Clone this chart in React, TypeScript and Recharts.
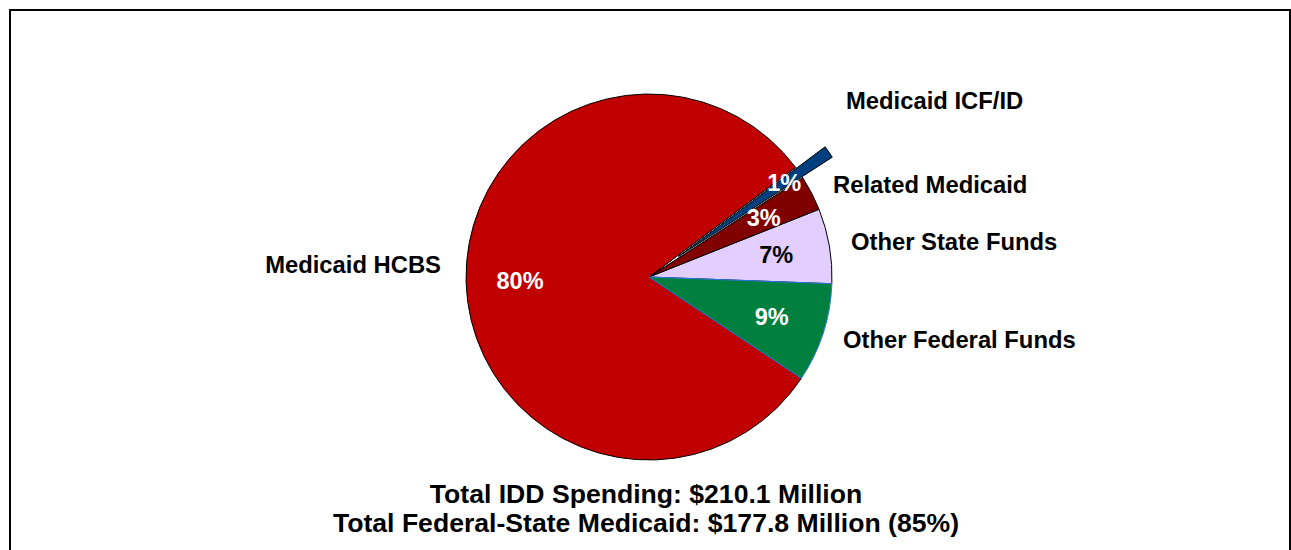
import { PieChart, Pie, Cell } from 'recharts';

// IDD spending by funding source, $ millions (total 210.1)
const categories = ['Other State Funds', 'Related Medicaid', 'Medicaid ICF/ID', 'Medicaid HCBS', 'Other Federal Funds'];
const spending = [13.9, 6.5, 2.3, 169.0, 18.4];
const sliceColors = ['#E2CEFF', '#800000', '#003F7F', '#C00000', '#007F3F'];
const pctColors = ['#000000', '#ffffff', '#ffffff', '#ffffff', '#ffffff'];
const footerLines = ['Total IDD Spending: $210.1 Million', 'Total Federal-State Medicaid: $177.8 Million (85%)'];

const explodedName = 'Medicaid ICF/ID';

const data = categories.map((name, i) => ({ name, value: spending[i] }));

// where Excel put the category callouts
const calloutPos: Record<string, { x: number; y: number; anchor: 'start' | 'end' }> = {
  'Medicaid HCBS': { x: 441, y: 273, anchor: 'end' },
  'Medicaid ICF/ID': { x: 846, y: 109, anchor: 'start' },
  'Related Medicaid': { x: 833, y: 193, anchor: 'start' },
  'Other State Funds': { x: 851, y: 250, anchor: 'start' },
  'Other Federal Funds': { x: 843, y: 348, anchor: 'start' },
};

const W = 1291;
const H = 550;
const CX = 649;
const CY = 277;
const R = 183;
const START = -2.1;
const EXPLODE = 36;
const RADIAN = Math.PI / 180;
const FONT = '"Liberation Sans", Arial, sans-serif';

// mid angle of the exploded slice, so the second pie can be pushed out along it
const total = spending.reduce((a, b) => a + b, 0);
const explodedIdx = categories.indexOf(explodedName);
const before = spending.slice(0, explodedIdx).reduce((a, b) => a + b, 0);
const explodedMid = START + ((before + spending[explodedIdx] / 2) / total) * 360;
const offX = EXPLODE * Math.cos(explodedMid * RADIAN);
const offY = -EXPLODE * Math.sin(explodedMid * RADIAN);

function renderLabel(props: any) {
  const { cx, cy, midAngle, outerRadius, percent, index, name } = props;
  const r = outerRadius * (name === explodedName ? 0.9 : 0.705);
  const x = cx + r * Math.cos(-midAngle * RADIAN);
  const y = cy + r * Math.sin(-midAngle * RADIAN);
  const pos = calloutPos[name];
  return (
    <g>
      <text
        x={x}
        y={y}
        fill={pctColors[index]}
        textAnchor="middle"
        dominantBaseline="central"
        fontFamily={FONT}
        fontWeight="bold"
        fontSize={23.5}
      >
        {`${Math.round(percent * 100)}%`}
      </text>
      {pos && (
        <text x={pos.x} y={pos.y} fill="#000" textAnchor={pos.anchor} fontFamily={FONT} fontWeight="bold" fontSize={23.8}>
          {name}
        </text>
      )}
    </g>
  );
}

export default function App() {
  return (
    <div style={{ position: 'absolute', left: 0, top: 0, width: W, height: H, overflow: 'hidden', background: '#fff' }}>
      <div
        style={{
          position: 'absolute',
          left: 9,
          top: 9,
          width: W - 9 - 4,
          height: H + 20,
          border: '2px solid #000',
        }}
      />
      <div style={{ position: 'absolute', left: 0, top: 0 }}>
        <PieChart width={W} height={H} margin={{ top: 0, right: 0, bottom: 0, left: 0 }}>
          <Pie
            data={data}
            dataKey="value"
            nameKey="name"
            cx={CX}
            cy={CY}
            outerRadius={R}
            startAngle={START}
            endAngle={START + 360}
            stroke="#000"
            strokeWidth={1}
            label={renderLabel}
            labelLine={false}
            isAnimationActive={false}
          >
            {data.map((d, i) => (
              <Cell
                key={d.name}
                fill={d.name === explodedName ? '#ffffff' : sliceColors[i]}
                stroke={d.name === 'Other Federal Funds' ? '#2B78E4' : '#000'}
              />
            ))}
          </Pie>
          <Pie
            data={data}
            dataKey="value"
            nameKey="name"
            cx={CX + offX}
            cy={CY + offY}
            outerRadius={R}
            startAngle={START}
            endAngle={START + 360}
            label={false}
            labelLine={false}
            isAnimationActive={false}
          >
            {data.map((d, i) => (
              <Cell
                key={d.name}
                fill={d.name === explodedName ? sliceColors[i] : 'none'}
                stroke={d.name === explodedName ? '#000' : 'none'}
                strokeWidth={1}
              />
            ))}
          </Pie>
          {footerLines.map((line, i) => (
            <text
              key={line}
              x={646}
              y={503 + i * 29}
              textAnchor="middle"
              fontFamily={FONT}
              fontWeight="bold"
              fontSize={26.6}
              fill="#000"
            >
              {line}
            </text>
          ))}
        </PieChart>
      </div>
    </div>
  );
}
